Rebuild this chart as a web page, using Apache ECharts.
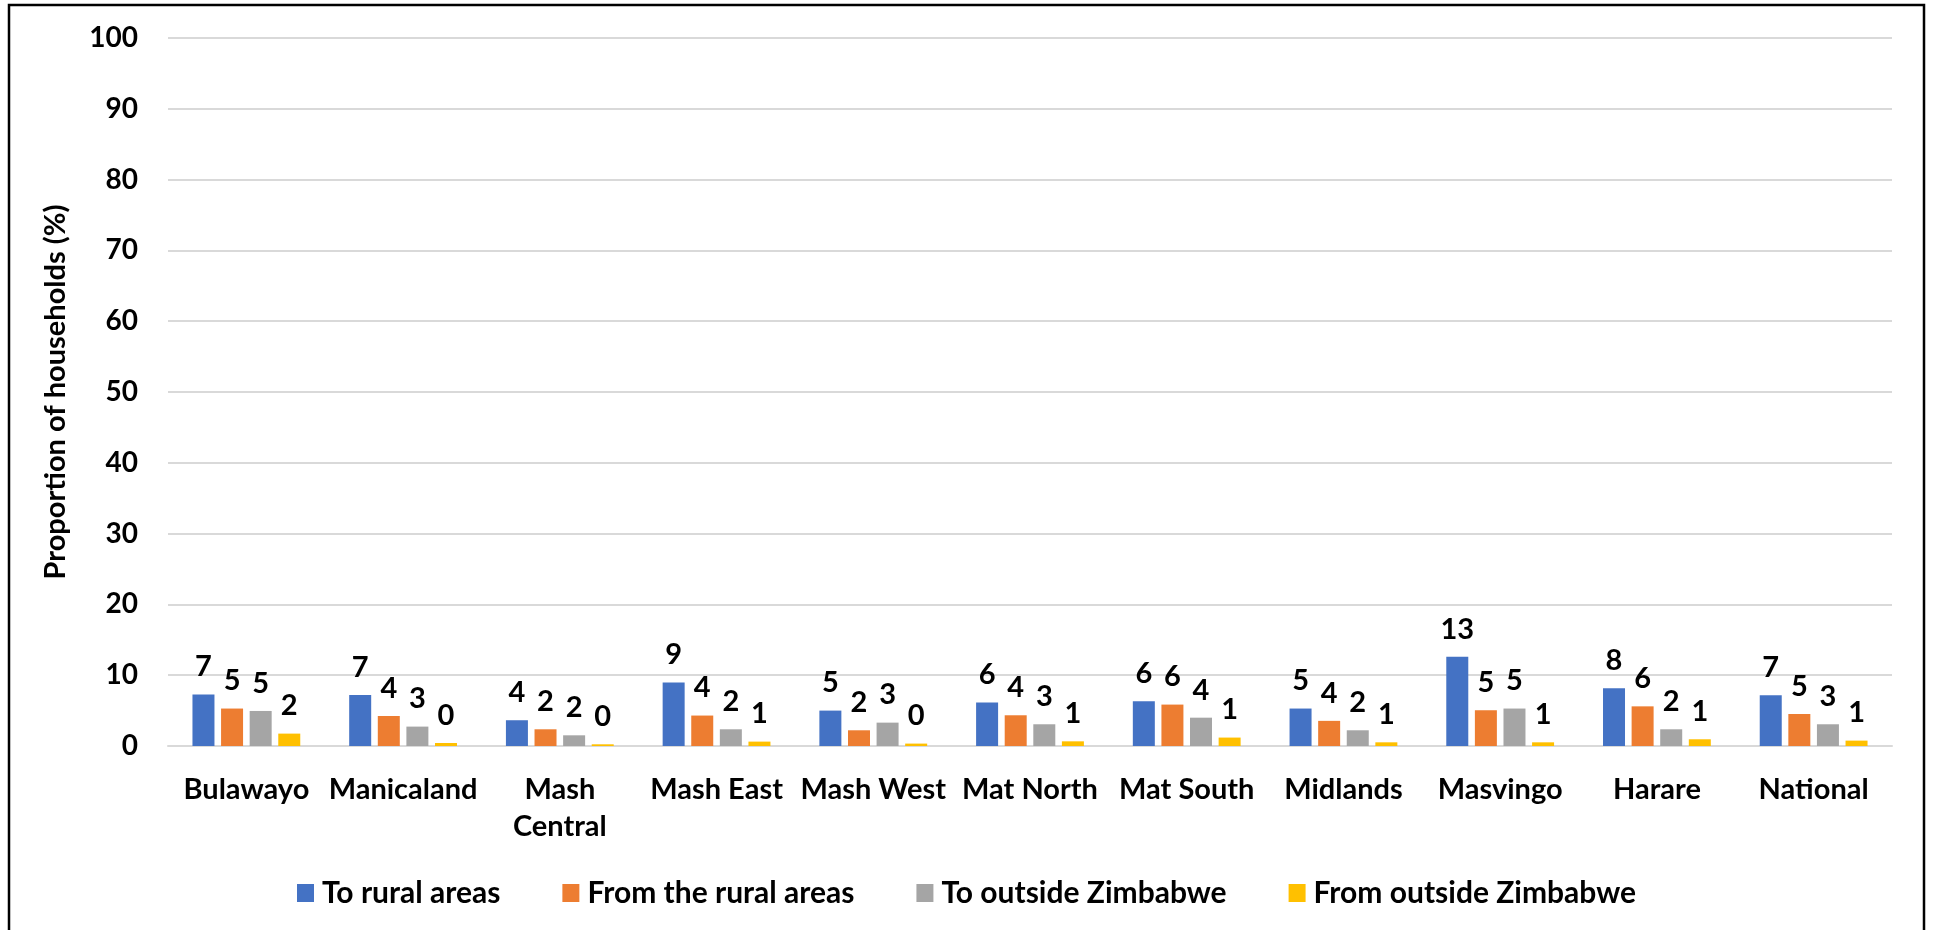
<!DOCTYPE html>
<html>
<head>
<meta charset="utf-8">
<script src="https://cdn.jsdelivr.net/npm/echarts@6/dist/echarts.min.js"></script>
<style>
  html, body { margin: 0; padding: 0; background: #fff; }
  #chart { width: 1933px; height: 930px; }
</style>
</head>
<body>
<div id="chart"></div>
<script>
const regions = ["Bulawayo", "Manicaland", "Mash\nCentral", "Mash East", "Mash West", "Mat North",
  "Mat South", "Midlands", "Masvingo", "Harare", "National"];

const toRural = [7.27, 7.2, 3.64, 8.97, 5.0, 6.13, 6.32, 5.29, 12.6, 8.16, 7.17];
const fromRural = [5.29, 4.24, 2.36, 4.3, 2.22, 4.34, 5.85, 3.55, 5.05, 5.6, 4.52];
const toOutside = [4.95, 2.74, 1.51, 2.36, 3.3, 3.07, 4.0, 2.22, 5.29, 2.36, 3.07];
const fromOutside = [1.75, 0.42, 0.24, 0.62, 0.34, 0.66, 1.19, 0.52, 0.52, 0.95, 0.76];

const font = "Lato";

const chart = echarts.init(document.getElementById("chart"));

function barSeries(name, data, color) {
  return {
    name: name,
    type: "bar",
    data: data,
    barWidth: 22,
    barGap: "30%",
    itemStyle: { color: color },
    label: {
      show: true,
      position: "top",
      distance: 13,
      color: "#000",
      fontFamily: font,
      fontWeight: "bold",
      fontSize: 29,
      formatter: (p) => Math.round(p.value)
    }
  };
}

chart.setOption({
  animation: false,
  color: ["#4472C4", "#ED7D31", "#A5A5A5", "#FFC000"],
  graphic: [{
    type: "rect",
    shape: { x: 9, y: 5, width: 1915, height: 940 },
    style: { fill: "none", stroke: "#000", lineWidth: 2.5 }
  }],
  grid: { left: 168, right: 41, top: 38, bottom: 184 },
  legend: {
    top: 873,
    left: "center",
    itemWidth: 17,
    itemHeight: 18,
    itemGap: 62,
    icon: "rect",
    textStyle: { fontFamily: font, fontWeight: "bold", fontSize: 30, color: "#000", padding: [0, 0, 0, 3] }
  },
  xAxis: {
    type: "category",
    data: regions,
    axisTick: { show: false },
    axisLine: { lineStyle: { color: "#D9D9D9", width: 2 } },
    axisLabel: {
      margin: 25,
      color: "#000",
      fontFamily: font,
      fontWeight: "bold",
      fontSize: 29,
      lineHeight: 37,
      interval: 0
    }
  },
  yAxis: {
    type: "value",
    min: 0,
    max: 100,
    interval: 10,
    name: "Proportion of households (%)",
    nameLocation: "middle",
    nameGap: 98,
    nameTextStyle: { fontFamily: font, fontWeight: "bold", fontSize: 29, color: "#000" },
    axisLabel: { margin: 30, color: "#000", fontFamily: font, fontWeight: "bold", fontSize: 28 },
    splitLine: { lineStyle: { color: "#D9D9D9", width: 2 } }
  },
  series: [
    barSeries("To rural areas", toRural, "#4472C4"),
    barSeries("From the rural areas", fromRural, "#ED7D31"),
    barSeries("To outside Zimbabwe", toOutside, "#A5A5A5"),
    barSeries("From outside Zimbabwe", fromOutside, "#FFC000")
  ]
});
window.addEventListener("resize", chart.resize);
</script>
</body>
</html>
